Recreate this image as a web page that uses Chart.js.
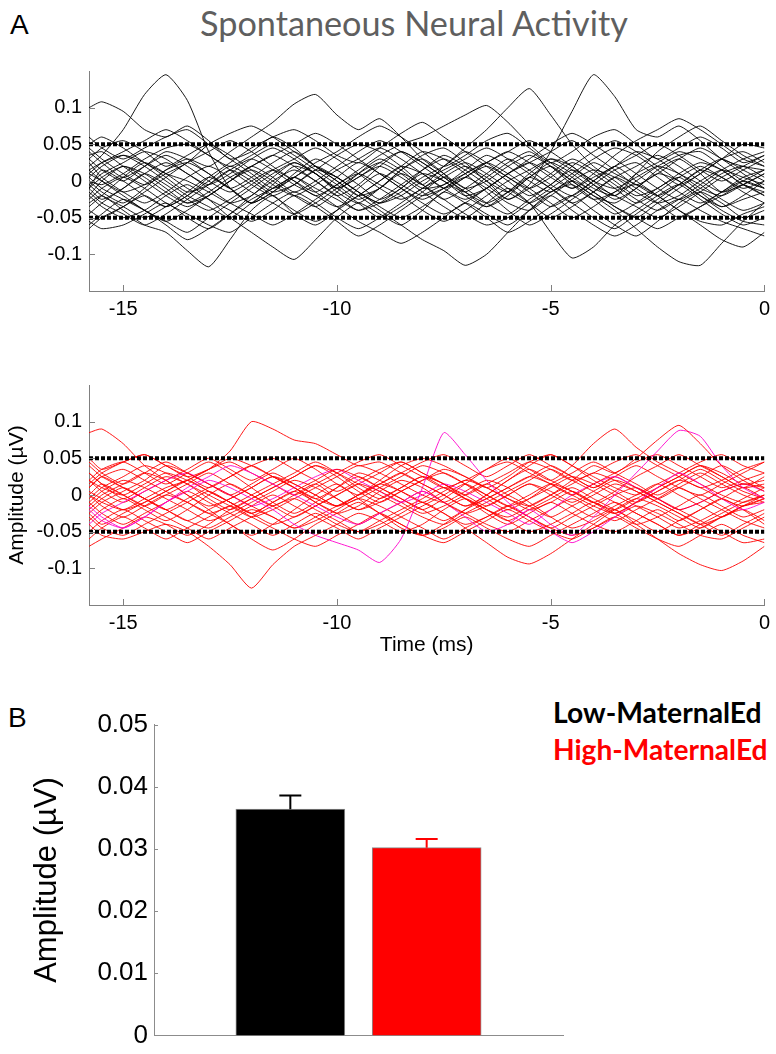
<!DOCTYPE html>
<html>
<head>
<meta charset="utf-8">
<script src="https://cdn.jsdelivr.net/npm/chart.js@4.4.1/dist/chart.umd.min.js"></script>
<style>
body{margin:0;width:776px;height:1054px;overflow:hidden;background:#fff;position:relative;font-family:"Liberation Sans",Arial,sans-serif}
canvas{position:absolute;left:0}
.lbl{position:absolute;line-height:1;white-space:nowrap}
.cal{font-family:Lato,"Open Sans",sans-serif}
</style>
</head>
<body>
<div class="lbl" style="left:10px;top:11px;font-size:28px">A</div>
<div class="lbl cal" id="title" style="font-size:30px;color:#5f5f5f">Spontaneous Neural Activity</div>
<canvas id="lowChart" width="776" height="274" style="top:52px"></canvas>
<canvas id="highChart" width="776" height="294" style="top:366px"></canvas>
<div class="lbl" style="left:8px;top:704px;font-size:28px">B</div>
<div class="lbl cal" id="legLow" style="font-size:28px;font-weight:bold;color:#000">Low-MaternalEd</div>
<div class="lbl cal" id="legHigh" style="font-size:28px;font-weight:bold;color:#ff0000">High-MaternalEd</div>
<canvas id="barChart" width="776" height="354" style="top:703px"></canvas>
<script>
// time axis (ms) shared by every trace
const times = [-15.8,-15.5,-15,-14.5,-14,-13.5,-13,-12.5,-12,-11.5,-11,-10.5,-10,-9.5,-9,-8.5,-8,-7.5,-7,-6.5,-6,-5.5,-5,-4.5,-4,-3.5,-3,-2.5,-2,-1.5,-1,-0.5,0];
const timeTicks = [-15,-10,-5,0];
const ampTicks = [-0.1,-0.05,0,0.05,0.1];
const threshold = 0.05;

// Low-MaternalEd traces (black)
const low1 = [0.02,0.035,0.07,0.118,0.145,0.11,0.04,-0.01,-0.03,-0.005,0.02,0.01,-0.015,-0.03,-0.01,0.015,0.03,0.01,-0.02,-0.035,-0.015,0.01,0.03,0.02,-0.005,-0.025,-0.01,0.015,0.03,0.01,-0.015,-0.005,0.01];
const low2 = [0.1,0.108,0.095,0.07,0.06,0.075,0.055,0.03,0.04,0.06,0.045,0.02,0,-0.02,-0.01,0.015,0.035,0.045,0.025,0,-0.015,0.005,0.025,0.01,-0.01,-0.02,0,0.02,0.035,0.04,0.02,0,-0.01];
const low3 = [-0.03,-0.02,-0.04,-0.06,-0.07,-0.095,-0.117,-0.08,-0.04,-0.02,-0.045,-0.06,-0.04,-0.01,0.01,-0.005,-0.02,-0.01,0.005,-0.01,-0.03,-0.04,-0.02,0,0.015,0.005,-0.015,-0.03,-0.02,0,0.015,0.005,-0.005];
const low4 = [0,-0.015,-0.03,-0.01,0.015,0.03,0.02,0.04,0.06,0.08,0.105,0.118,0.09,0.07,0.085,0.06,0.03,0.01,-0.01,0,0.02,0.035,0.02,-0.005,-0.025,-0.015,0.01,0.025,0.04,0.03,0.015,-0.005,-0.015];
const low5 = [-0.01,0.005,0.02,0.01,-0.01,-0.03,-0.02,0,0.015,0,-0.02,-0.035,-0.015,0.01,0.03,0.015,-0.005,0.02,0.045,0.07,0.1,0.126,0.09,0.05,0.02,0,-0.02,-0.01,0.01,0.025,0.015,-0.005,-0.02];
const low6 = [0.01,0,-0.015,-0.005,0.015,0.025,0.01,-0.01,-0.03,-0.015,0.01,0.03,0.015,-0.005,-0.025,-0.01,0.015,0.035,0.02,0,-0.025,-0.005,0.04,0.095,0.145,0.115,0.07,0.06,0.075,0.055,0.03,0.02,0.015];
const low7 = [-0.02,-0.035,-0.05,-0.04,-0.02,-0.005,-0.025,-0.05,-0.07,-0.09,-0.107,-0.08,-0.05,-0.03,-0.045,-0.06,-0.04,-0.015,-0.03,-0.05,-0.07,-0.055,-0.035,-0.02,-0.04,-0.06,-0.075,-0.055,-0.03,-0.015,-0.03,-0.05,-0.04];
const low8 = [0.03,0.015,0,0.02,0.04,0.03,0.01,-0.01,0.005,0.025,0.04,0.02,0,-0.02,-0.04,-0.06,-0.08,-0.095,-0.115,-0.1,-0.07,-0.04,-0.015,-0.005,-0.025,-0.045,-0.03,-0.01,0.005,-0.015,-0.035,-0.02,0];
const low9 = [-0.005,0.01,0.025,0.04,0.03,0.01,-0.005,0.01,0.03,0.045,0.03,0.01,-0.01,0.005,0.02,0.005,-0.015,-0.035,-0.05,-0.03,-0.01,-0.03,-0.07,-0.105,-0.09,-0.06,-0.04,-0.02,-0.005,-0.025,-0.045,-0.06,-0.05];
const low10 = [0.005,-0.01,-0.025,-0.04,-0.055,-0.04,-0.02,0,0.02,0.005,-0.015,0,0.02,0.04,0.055,0.04,0.02,0,-0.015,0.005,0.025,0.04,0.02,0,-0.02,-0.04,-0.065,-0.09,-0.11,-0.115,-0.085,-0.055,-0.03];
const low11 = [-0.04,-0.05,-0.035,-0.015,0.005,0.025,0.04,0.055,0.04,0.02,0,-0.02,-0.005,0.015,0.035,0.05,0.06,0.075,0.09,0.103,0.08,0.05,0.025,0.005,-0.015,-0.035,-0.05,-0.03,-0.01,0.01,0.03,0.05,0.045];
const low12 = [0.015,0.025,0.035,0.02,0,-0.02,-0.035,-0.05,-0.03,-0.01,0.005,-0.01,-0.025,-0.04,-0.03,-0.01,0.01,0,-0.02,-0.01,0.01,0.025,0.01,-0.01,0.01,0.035,0.055,0.07,0.085,0.07,0.05,0.03,0.02];
const low13 = [-0.055,-0.065,-0.06,-0.045,-0.03,-0.05,-0.065,-0.045,-0.02,0,0.015,0,-0.02,-0.005,0.02,0.04,0.025,0.005,-0.015,-0.035,-0.02,0.005,0.02,0,-0.02,-0.03,-0.01,0.01,0,-0.02,-0.04,-0.055,-0.06];
const low14 = [0,-0.005,0.01,0.03,0.045,0.05,0.035,0.015,-0.005,-0.02,-0.005,0.015,0.035,0.05,0.04,0.02,-0.005,-0.025,-0.01,0.01,0.03,0.015,-0.005,-0.02,0,0.02,0.04,0.03,0.01,-0.005,-0.025,-0.04,-0.03];
const low15 = [0.035,0.04,0.02,0,-0.02,-0.035,-0.02,0,0.02,0.035,0.05,0.065,0.05,0.03,0.01,-0.01,-0.03,-0.045,-0.03,-0.01,0.01,0.03,0.05,0.065,0.05,0.03,0.01,-0.01,-0.025,-0.01,0.01,0.02,0.005];
const low16 = [-0.015,-0.03,-0.045,-0.06,-0.045,-0.025,-0.005,0.015,0,-0.02,-0.04,-0.055,-0.04,-0.02,0,0.02,0.04,0.03,0.01,-0.015,-0.04,-0.06,-0.045,-0.025,-0.005,0.015,0.025,0.005,-0.015,-0.03,-0.015,0.005,0.015];
const low17 = [0.045,0.03,0.01,-0.005,0.01,0.025,0.05,0.065,0.075,0.06,0.04,0.02,0.005,-0.015,-0.03,-0.02,0,0.015,0.03,0.045,0.03,0.01,-0.01,-0.03,-0.015,0.005,-0.01,-0.03,-0.05,-0.035,-0.015,0,-0.01];
const low18 = [-0.035,-0.02,0.005,0.025,0.01,-0.01,-0.025,-0.04,-0.055,-0.04,-0.02,-0.035,-0.055,-0.075,-0.06,-0.04,-0.02,-0.005,0.01,0.025,0.01,-0.01,-0.03,-0.05,-0.035,-0.015,-0.005,-0.02,-0.04,-0.055,-0.06,-0.045,-0.035];
const low19 = [0.01,0.025,0.04,0.055,0.07,0.055,0.035,0.02,0.035,0.05,0.035,0.015,-0.005,-0.025,-0.01,0.01,-0.005,-0.025,-0.045,-0.06,-0.05,-0.03,-0.01,0.01,0.03,0.045,0.035,0.015,-0.005,0.01,0.03,0.04,0.025];
const low20 = [-0.06,-0.045,-0.025,-0.04,-0.06,-0.08,-0.065,-0.045,-0.025,-0.01,0.005,-0.015,-0.035,-0.055,-0.07,-0.085,-0.07,-0.05,-0.03,-0.045,-0.06,-0.04,-0.02,-0.04,-0.06,-0.075,-0.06,-0.04,-0.025,-0.04,-0.055,-0.065,-0.075];
const low21 = [0.025,0.005,-0.015,-0.03,-0.015,0.005,0.02,0.005,-0.015,-0.03,-0.045,-0.03,-0.01,0.01,0.025,0.01,-0.01,-0.005,0.015,0.035,0.02,0,-0.015,0.005,0.025,0.01,-0.005,-0.02,-0.005,0.015,0.005,-0.01,0];
const low22 = [-0.01,0.015,0,-0.02,-0.035,-0.02,0.005,0.025,0.045,0.06,0.07,0.055,0.035,0.025,0.045,0.065,0.08,0.06,0.04,0.02,0,-0.02,-0.005,0.015,0,-0.02,0.01,0.04,0.06,0.075,0.055,0.035,0.02];
const low23 = [0.05,0.06,0.045,0.025,0.01,0,-0.015,-0.03,-0.02,0.005,0.025,0.01,-0.01,-0.03,-0.05,-0.035,-0.015,0.005,-0.01,-0.03,-0.045,-0.025,-0.005,0.02,0.04,0.055,0.04,0.02,0,-0.02,-0.035,-0.025,-0.015];
const low24 = [-0.025,-0.01,0.005,-0.01,-0.03,-0.045,-0.06,-0.07,-0.05,-0.03,-0.015,-0.03,-0.05,-0.065,-0.05,-0.03,-0.01,0.005,0.02,0.005,-0.015,-0.03,-0.015,0,-0.015,-0.035,-0.05,-0.065,-0.05,-0.035,-0.02,-0.005,-0.02];
const low25 = [0.005,0.02,0.035,0.025,0.005,-0.015,-0.005,0.015,0.03,0.015,-0.005,-0.02,-0.035,-0.02,0,0.02,0.01,-0.01,0.005,0.025,0.04,0.055,0.04,0.02,0,-0.01,0.005,0.02,0.01,-0.01,-0.02,-0.005,0.01];
const low26 = [-0.045,-0.03,-0.01,0.01,-0.005,-0.025,-0.04,-0.025,-0.005,0.015,0.03,0.045,0.03,0.01,-0.01,-0.025,-0.01,0.01,0.025,0.01,-0.01,-0.03,-0.05,-0.035,-0.015,0.005,0.02,0.035,0.02,0,-0.015,0,0.015];
const low27 = [0.06,0.045,0.03,0.045,0.06,0.07,0.05,0.03,0.01,-0.01,0.005,0.025,0.04,0.06,0.075,0.06,0.04,0.02,0.035,0.055,0.065,0.045,0.025,0.04,0.06,0.07,0.05,0.03,0.045,0.06,0.045,0.025,0.035];
const low28 = [-0.01,-0.025,-0.01,0.01,0.025,0.01,-0.01,-0.03,-0.045,-0.06,-0.045,-0.025,-0.005,0.01,-0.005,-0.02,-0.04,-0.055,-0.04,-0.02,0,0.015,0.03,0.015,-0.005,-0.02,-0.035,-0.05,-0.035,-0.015,0.005,0.02,0.035];
const low29 = [0.03,0.045,0.055,0.04,0.02,0.035,0.05,0.035,0.015,-0.005,-0.02,-0.005,0.015,0.03,0.045,0.03,0.01,-0.01,-0.025,-0.01,0.01,0.025,0.04,0.055,0.035,0.015,-0.005,0.01,0.03,0.045,0.03,0.01,-0.01];
const low30 = [-0.02,0,0.02,0.005,-0.015,-0.03,-0.015,0.005,0.02,0.035,0.02,0,-0.02,-0.04,-0.025,-0.005,0.015,0.03,0.015,-0.005,-0.025,-0.01,0.01,0.03,0.015,-0.005,-0.025,-0.04,-0.025,-0.005,0.015,0.03,0.04];
const low31 = [0.015,0,-0.02,-0.04,-0.055,-0.07,-0.05,-0.03,-0.01,0.01,0.025,0.01,-0.01,0.005,0.025,0.04,0.025,0.005,-0.015,-0.03,-0.015,0.005,-0.01,-0.03,-0.05,-0.065,-0.045,-0.025,-0.005,0.015,0.03,0.015,0];
const low32 = [-0.065,-0.05,-0.035,-0.02,-0.035,-0.02,0,0.02,0.005,-0.015,-0.005,0.015,0.005,-0.015,-0.035,-0.05,-0.035,-0.015,0.005,0.02,0.005,-0.015,-0.035,-0.02,0,0.02,0,-0.02,-0.04,-0.06,-0.08,-0.09,-0.07];
const low33 = [0.04,0.025,0.005,0.02,0.035,0.02,0,-0.015,0,0.015,0,-0.015,0.005,0.025,0.01,-0.01,-0.025,-0.01,0.01,0.025,0.04,0.025,0.005,-0.01,0.005,0.02,0.035,0.05,0.035,0.015,0,0.015,0.03];
const low34 = [-0.005,-0.02,-0.035,-0.05,-0.035,-0.015,0.005,-0.01,-0.03,-0.015,0.005,0.02,0.005,-0.015,-0.03,-0.015,0.005,0.02,0.04,0.025,0.005,-0.01,0.005,0.025,0.01,-0.01,-0.03,-0.015,0.005,0.02,0.005,-0.015,-0.03];

// High-MaternalEd traces (red)
const high1 = [0.085,0.09,0.07,0.04,0.02,0,-0.015,-0.005,0.01,0.025,0.01,-0.01,-0.025,-0.015,0.005,0.02,0.01,-0.01,-0.025,-0.015,0,0.015,0.005,-0.01,0.005,0.02,0.01,-0.005,-0.02,-0.01,0.005,0.015,0.01];
const high2 = [0,-0.01,-0.02,-0.005,0.01,0.02,0.035,0.06,0.1,0.09,0.075,0.07,0.055,0.04,0.045,0.03,0.015,0,-0.015,-0.005,0.01,0.025,0.015,0,-0.015,-0.025,-0.01,0.005,0.02,0.01,-0.005,-0.015,-0.005];
const high3 = [-0.04,-0.055,-0.06,-0.05,-0.04,-0.05,-0.07,-0.095,-0.127,-0.095,-0.07,-0.055,-0.04,-0.025,-0.035,-0.05,-0.04,-0.02,-0.005,-0.02,-0.035,-0.05,-0.04,-0.025,-0.01,-0.025,-0.04,-0.03,-0.015,0,-0.015,-0.03,-0.02];
const high4 = [-0.02,-0.035,-0.045,-0.03,-0.01,0.005,0.02,0.01,-0.005,-0.02,-0.04,-0.055,-0.065,-0.075,-0.092,-0.06,0.01,0.085,0.055,0.02,-0.01,-0.03,-0.05,-0.065,-0.05,-0.03,-0.01,0.01,0.03,0.015,-0.005,-0.02,-0.01];
const high5 = [0.02,0.01,0,0.015,0.03,0.02,0.005,-0.01,-0.025,-0.01,0.005,0.02,0.035,0.025,0.01,-0.005,-0.02,-0.005,0.015,0.035,0.05,0.035,0.02,0.04,0.07,0.09,0.065,0.045,0.03,0.015,0,-0.01,0];
const high6 = [-0.01,0.005,0.02,0.01,-0.005,-0.02,-0.035,-0.025,-0.01,0.005,0.02,0.01,-0.005,-0.02,-0.01,0.005,0.02,0.035,0.025,0.01,-0.005,-0.015,0,0.02,0.04,0.03,0.05,0.075,0.095,0.07,0.04,0.02,0.005];
const high7 = [-0.015,-0.03,-0.045,-0.03,-0.01,0.01,0.025,0.04,0.03,0.015,0,-0.015,-0.03,-0.04,-0.025,-0.01,0.005,-0.01,-0.03,-0.05,-0.04,-0.02,-0.04,-0.055,-0.03,0,0.03,0.06,0.088,0.08,0.04,0.01,-0.005];
const high8 = [-0.005,0.01,0.025,0.04,0.03,0.015,0,-0.015,-0.03,-0.02,-0.005,0.01,0.025,0.04,0.03,0.015,0,-0.01,0.005,0.02,0.01,-0.01,-0.03,-0.045,-0.035,-0.02,-0.04,-0.06,-0.08,-0.095,-0.103,-0.09,-0.07];
const high9 = [0.03,0.015,0,-0.015,-0.03,-0.045,-0.06,-0.045,-0.03,-0.015,-0.005,-0.02,-0.035,-0.05,-0.04,-0.025,-0.01,-0.025,-0.045,-0.065,-0.085,-0.094,-0.08,-0.06,-0.04,-0.02,-0.005,-0.015,-0.03,-0.045,-0.03,-0.015,-0.01];
const high10 = [-0.07,-0.06,-0.045,-0.03,-0.04,-0.055,-0.04,-0.02,-0.005,0.01,0.025,0.04,0.03,0.015,0,-0.015,-0.03,-0.04,-0.025,-0.01,0.005,0.02,0.035,0.02,0.005,-0.01,-0.025,-0.04,-0.055,-0.04,-0.025,-0.01,0];
const high11 = [0.01,0.025,0.035,0.02,0.005,-0.01,-0.025,-0.015,0,0.015,0.03,0.045,0.03,0.01,-0.005,0.01,0.025,0.015,-0.005,-0.02,-0.03,-0.015,0,0.015,0.03,0.02,0.005,-0.01,-0.025,-0.04,-0.03,-0.015,-0.005];
const high12 = [-0.025,-0.01,0.005,0.02,0.04,0.03,0.015,0,-0.015,-0.03,-0.045,-0.03,-0.015,0,0.015,0.005,-0.01,-0.025,-0.04,-0.03,-0.015,0,0.015,0.005,-0.01,-0.02,-0.005,0.01,0.025,0.04,0.03,0.015,0.02];
const high13 = [0.04,0.025,0.01,-0.005,-0.02,-0.035,-0.02,-0.005,0.01,0.025,0.015,0,-0.015,-0.005,0.01,0.025,0.04,0.03,0.015,0,-0.015,-0.005,0.01,0.025,0.015,0,-0.015,-0.03,-0.045,-0.035,-0.02,-0.005,0.01];
const high14 = [-0.05,-0.035,-0.02,-0.035,-0.05,-0.065,-0.05,-0.035,-0.02,-0.03,-0.045,-0.035,-0.02,-0.005,-0.015,-0.03,-0.045,-0.06,-0.045,-0.03,-0.015,-0.03,-0.045,-0.055,-0.045,-0.03,-0.015,-0.025,-0.04,-0.055,-0.06,-0.045,-0.03];
const high15 = [0.005,-0.005,-0.02,-0.01,0.005,0.02,0.035,0.045,0.03,0.015,0,0.015,0.03,0.045,0.055,0.04,0.025,0.01,0.02,0.035,0.045,0.03,0.015,0,0.015,0.03,0.045,0.055,0.04,0.025,0.01,0.02,0.03];
const high16 = [-0.03,-0.045,-0.055,-0.04,-0.025,-0.01,0.005,-0.01,-0.025,-0.04,-0.03,-0.015,0,0.015,0.005,-0.01,-0.025,-0.015,0,0.015,0,-0.015,-0.03,-0.015,0,0.015,0.005,-0.01,-0.025,-0.04,-0.055,-0.04,-0.025];
const high17 = [0.02,0.035,0.045,0.03,0.015,0.03,0.045,0.03,0.01,-0.01,-0.025,-0.01,0.01,0.03,0.02,0.005,-0.01,0.005,0.02,0.01,-0.005,-0.02,-0.01,0.005,-0.01,-0.025,-0.01,0.01,0.025,0.04,0.025,0.01,0.015];
const high18 = [-0.015,0,0.015,0.03,0.02,0,-0.02,-0.04,-0.055,-0.04,-0.02,0,0.015,-0.005,-0.025,-0.045,-0.055,-0.04,-0.02,0,0.02,0.04,0.055,0.04,0.02,0.005,-0.01,0.005,0.02,0.035,0.02,0.005,-0.005];
const high19 = [0,-0.015,-0.03,-0.015,0,-0.01,-0.025,-0.04,-0.06,-0.075,-0.06,-0.04,-0.025,-0.01,-0.025,-0.04,-0.055,-0.045,-0.03,-0.045,-0.06,-0.07,-0.055,-0.04,-0.025,-0.01,-0.025,-0.04,-0.055,-0.045,-0.03,-0.02,-0.035];
const high20 = [-0.04,-0.025,-0.01,0.005,0.02,0.03,0.015,0,-0.015,-0.005,0.01,0.025,0.035,0.02,0.005,-0.01,0,0.015,0.005,-0.01,-0.025,-0.04,-0.02,0,0.015,0.025,0.01,-0.005,-0.02,-0.01,0.005,0.015,0.005];
const high21 = [0.015,0.03,0.045,0.055,0.04,0.025,0.035,0.05,0.04,0.025,0.01,-0.005,-0.015,0,0.02,0.04,0.05,0.04,0.025,0.01,0.025,0.045,0.055,0.04,0.025,0.01,0,0.015,0.03,0.045,0.055,0.04,0.03];
const high22 = [-0.02,-0.005,0.01,-0.005,-0.02,-0.035,-0.045,-0.03,-0.015,0,-0.015,-0.03,-0.045,-0.06,-0.045,-0.03,-0.015,0,0.015,0,-0.015,-0.03,-0.045,-0.03,-0.015,0,0.01,-0.005,-0.02,-0.035,-0.05,-0.065,-0.06];
const high23 = [0.03,0.015,-0.005,0.01,0.025,0.015,-0.005,-0.02,-0.005,0.01,0.025,0.04,0.025,0.005,-0.01,0.005,0.02,0.03,0.015,-0.005,-0.02,-0.005,0.015,0.03,0.045,0.03,0.015,0,0.015,0.03,0.015,0,-0.01];
const high24 = [-0.01,-0.025,-0.04,-0.025,-0.01,0.005,-0.01,-0.025,-0.04,-0.055,-0.04,-0.025,-0.04,-0.05,-0.035,-0.02,-0.005,0.01,-0.005,-0.02,-0.035,-0.02,-0.005,0.01,-0.005,-0.02,-0.035,-0.05,-0.035,-0.02,-0.005,-0.02,-0.04];
const high25 = [0.05,0.035,0.045,0.055,0.04,0.025,0.01,0.025,0.04,0.05,0.035,0.02,0.005,0.02,0.035,0.045,0.03,0.015,0,0.015,0.03,0.045,0.035,0.02,0.03,0.045,0.055,0.04,0.025,0.01,0.02,0.035,0.045];
const high26 = [0,0.015,0,-0.015,0,0.015,0.03,0.015,0,-0.015,-0.03,-0.015,0,0.015,0.03,0.045,0.03,0.015,0,-0.015,0,0.015,0,-0.015,-0.03,-0.015,0,0.015,0,-0.015,-0.03,-0.015,0];
const high27 = [-0.06,-0.045,-0.03,-0.045,-0.06,-0.045,-0.03,-0.015,-0.03,-0.045,-0.06,-0.07,-0.055,-0.04,-0.025,-0.04,-0.055,-0.065,-0.05,-0.035,-0.02,-0.035,-0.05,-0.06,-0.045,-0.03,-0.045,-0.06,-0.07,-0.055,-0.04,-0.055,-0.065];
const high28 = [0.02,0.005,-0.01,0.005,0.02,0.035,0.05,0.035,0.02,0.035,0.05,0.035,0.015,0,0.015,0.03,0.015,0,-0.015,0,0.02,0.035,0.02,0.005,-0.01,0.005,0.025,0.04,0.055,0.04,0.025,0.01,0.025];
const high29 = [-0.035,-0.02,-0.005,-0.02,-0.035,-0.02,0,0.015,0,-0.015,0,0.015,-0.005,-0.02,-0.005,0.01,0.025,0.01,-0.005,-0.025,-0.04,-0.025,-0.01,-0.025,-0.04,-0.05,-0.035,-0.02,-0.035,-0.02,-0.005,0.01,-0.005];
const high30 = [0.01,0.025,0.01,-0.005,-0.02,-0.005,0.01,0.025,0.04,0.025,0.01,-0.005,0.01,0.025,0.01,-0.005,-0.02,-0.035,-0.02,-0.005,0.01,0.025,0.04,0.025,0.01,0.025,0.01,-0.005,0.01,0.025,0.04,0.025,0.01];
const high31 = [-0.025,-0.04,-0.025,-0.01,0.005,0.02,0.005,-0.01,-0.025,-0.01,0.005,-0.01,-0.025,-0.04,-0.025,-0.01,0.005,-0.01,-0.025,-0.04,-0.05,-0.035,-0.02,-0.005,-0.02,-0.035,-0.02,-0.005,0.01,-0.005,-0.02,-0.035,-0.045];
const high32 = [0.045,0.03,0.015,0.03,0.045,0.03,0.015,0,0.015,0.03,0.015,0,-0.015,0,0.015,0.03,0.045,0.055,0.04,0.025,0.04,0.055,0.04,0.025,0.01,0.025,0.04,0.025,0.01,0,0.015,0.03,0.045];

// panel B: mean amplitude with SEM
const groups = ['Low-MaternalEd','High-MaternalEd'];
const barValues = [0.0364, 0.0302];
const barErrors = [0.0022, 0.0014];

const lowTraces = [low1,low2,low3,low4,low5,low6,low7,low8,low9,low10,low11,low12,low13,low14,low15,low16,low17,low18,low19,low20,low21,low22,low23,low24,low25,low26,low27,low28,low29,low30,low31,low32,low33,low34];
const highTraces = [high1,high2,high3,high4,high5,high6,high7,high8,high9,high10,high11,high12,high13,high14,high15,high16,high17,high18,high19,high20,high21,high22,high23,high24,high25,high26,high27,high28,high29,high30,high31,high32];
const magenta = [high4, high7, high20];
const barColors = ['#000000','#ff0000'];
const FONT = '"Liberation Sans", Arial, sans-serif';

// MATLAB style ticks that point into the plot area
const inwardTicks = {
	id: 'inwardTicks',
	afterDraw(chart, args, opts) {
		const ctx = chart.ctx, area = chart.chartArea;
		ctx.save();
		ctx.strokeStyle = opts.color;
		ctx.lineWidth = 1;
		ctx.beginPath();
		if (opts.x) {
			chart.scales.x.ticks.forEach(function(t) {
				const px = Math.round(chart.scales.x.getPixelForValue(t.value)) + 0.5;
				ctx.moveTo(px, area.bottom);
				ctx.lineTo(px, area.bottom - opts.len);
			});
		}
		chart.scales.y.ticks.forEach(function(t) {
			const py = Math.round(chart.scales.y.getPixelForValue(t.value)) + 0.5;
			ctx.moveTo(area.left, py);
			ctx.lineTo(area.left + opts.len, py);
		});
		ctx.stroke();
		ctx.restore();
	}
};

const errorBars = {
	id: 'errorBars',
	afterDatasetsDraw(chart) {
		const ctx = chart.ctx, y = chart.scales.y;
		chart.getDatasetMeta(0).data.forEach(function(bar, i) {
			const top = y.getPixelForValue(barValues[i] + barErrors[i]);
			ctx.save();
			ctx.strokeStyle = barColors[i];
			ctx.lineWidth = 2;
			ctx.beginPath();
			ctx.moveTo(bar.x, bar.y);
			ctx.lineTo(bar.x, top);
			ctx.moveTo(bar.x - 11, top);
			ctx.lineTo(bar.x + 11, top);
			ctx.stroke();
			ctx.restore();
		});
	}
};

function toPoints(vals) {
	return vals.map(function(v, i) { return {x: times[i], y: v}; });
}

function thresholdLine(v) {
	return {
		data: [{x: times[0], y: v}, {x: times[times.length - 1], y: v}],
		borderColor: '#000', borderWidth: 4, borderDash: [4, 2], tension: 0
	};
}

function traceChart(id, traces, colorFor, withTitles) {
	const datasets = [thresholdLine(threshold), thresholdLine(-threshold)];
	traces.forEach(function(tr) {
		datasets.push({data: toPoints(tr), borderColor: colorFor(tr), borderWidth: 1});
	});
	return new Chart(document.getElementById(id), {
		type: 'line',
		data: {datasets: datasets},
		options: {
			responsive: false,
			animation: false,
			events: [],
			layout: {padding: {top: 15, left: 0, right: 5, bottom: 0}},
			elements: {point: {radius: 0}, line: {tension: 0.2}},
			plugins: {
				legend: {display: false},
				tooltip: {enabled: false},
				inwardTicks: {color: '#808080', len: 6, x: true}
			},
			scales: {
				x: {
					type: 'linear', min: times[0], max: 0,
					afterBuildTicks: function(s) { s.ticks = timeTicks.map(function(v) { return {value: v}; }); },
					afterFit: function(s) { s.height = withTitles ? 55 : 35; },
					grid: {display: false, drawTicks: false},
					border: {color: '#808080'},
					ticks: {color: '#000', font: {size: 20, family: FONT}, padding: 6, maxRotation: 0, callback: function(v) { return String(v); }},
					title: {display: withTitles, text: 'Time (ms)', color: '#000', font: {size: 21, family: FONT}, padding: {top: 0, bottom: 2}}
				},
				y: {
					min: -0.15, max: 0.15,
					afterBuildTicks: function(s) { s.ticks = ampTicks.map(function(v) { return {value: v}; }); },
					afterFit: function(s) { s.width = 89; },
					grid: {display: false, drawTicks: false},
					border: {color: '#808080'},
					ticks: {color: '#000', font: {size: 20, family: FONT}, padding: 7, callback: function(v) { return String(v); }},
					title: {display: withTitles, text: 'Amplitude (µV)', color: '#000', font: {size: 21, family: FONT}, padding: {top: 5, bottom: 0}}
				}
			}
		},
		plugins: [inwardTicks]
	});
}

traceChart('lowChart', lowTraces, function() { return 'rgba(0,0,0,0.9)'; }, false);
traceChart('highChart', highTraces, function(tr) {
	return magenta.indexOf(tr) >= 0 ? 'rgba(255,0,204,0.9)' : 'rgba(255,0,0,0.9)';
}, true);

new Chart(document.getElementById('barChart'), {
	type: 'bar',
	data: {
		datasets: [{
			data: groups.map(function(g, i) { return {x: i + 1, y: barValues[i]}; }),
			backgroundColor: barColors,
			borderColor: '#8c8c8c',
			borderWidth: 1,
			barThickness: 109
		}]
	},
	options: {
		responsive: false,
		animation: false,
		events: [],
		layout: {padding: {top: 15, left: 0, right: 213, bottom: 15}},
		plugins: {
			legend: {display: false},
			tooltip: {enabled: false},
			inwardTicks: {color: '#8c8c8c', len: 4, x: false}
		},
		scales: {
			x: {
				type: 'linear', min: 0, max: 3, offset: false,
				ticks: {display: false},
				grid: {display: false, drawTicks: false},
				border: {color: '#8c8c8c'},
				afterFit: function(s) { s.height = 0; }
			},
			y: {
				min: 0, max: 0.05,
				afterFit: function(s) { s.width = 154; },
				grid: {display: false, drawTicks: false},
				border: {color: '#8c8c8c'},
				ticks: {stepSize: 0.01, color: '#000', font: {size: 26, family: FONT}, padding: 6,
					callback: function(v) { return v === 0 ? '0' : v.toFixed(2); }},
				title: {display: true, text: 'Amplitude (µV)', color: '#000', font: {size: 31, family: FONT}, padding: {top: 29, bottom: 0}}
			}
		}
	},
	plugins: [inwardTicks, errorBars]
});

// size the Calibri-like labels to the widths seen in the figure
function fitText(id, left, width, baseline) {
	const el = document.getElementById(id);
	const size = parseFloat(getComputedStyle(el).fontSize) * width / el.offsetWidth;
	el.style.fontSize = size + 'px';
	el.style.left = left + 'px';
	el.style.top = (baseline - 0.9 * size) + 'px';
}
fitText('title', 200, 428, 37);
fitText('legLow', 553, 209, 723);
fitText('legHigh', 553, 215, 760);
</script>
</body>
</html>
